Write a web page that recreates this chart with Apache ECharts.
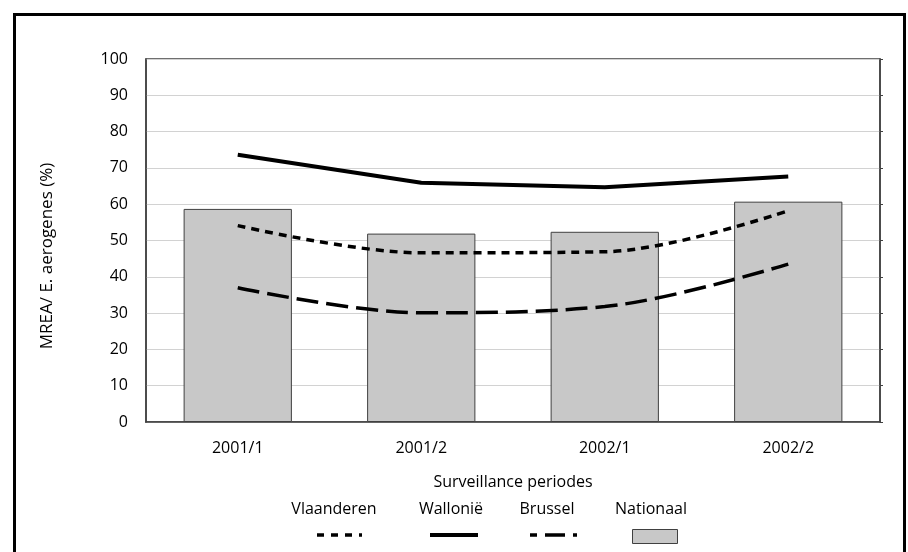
<!DOCTYPE html>
<html>
<head>
<meta charset="utf-8">
<script src="https://cdn.jsdelivr.net/npm/echarts@6/dist/echarts.min.js"></script>
<style>html,body{margin:0;padding:0;background:#fff}#c{width:908px;height:552px}</style>
</head>
<body>
<div id="c"></div>
<script>
var categories = ['2001/1', '2001/2', '2002/1', '2002/2'];
var nationaal = [58.7, 51.9, 52.4, 60.7];
var vlaanderen = [54.1, 46.6, 46.9, 58.2];
var wallonie = [73.6, 65.9, 64.7, 67.6];
var brussel = [37.0, 30.1, 31.8, 43.5];
var yTicks = { min: 0, max: 100, interval: 10 };
var seriesNames = ['Vlaanderen', 'Wallonië', 'Brussel', 'Nationaal'];
var axisTitleX = 'Surveillance periodes';
var axisTitleY = 'MREA/ E. aerogenes (%)';

var FONT = 'Open Sans';
var FS = 16;
var chart = echarts.init(document.getElementById('c'));
var legendText = function (s, x) {
  return { type: 'text', x: x, y: 509, style: { text: s, font: FS + 'px "' + FONT + '"', fill: '#000', align: 'center', verticalAlign: 'middle' } };
};
chart.setOption({
  animation: false,
  textStyle: { fontFamily: FONT },
  grid: { left: 146, right: 28, top: 59, bottom: 130, show: true, borderColor: '#404040', borderWidth: 1.5, backgroundColor: 'transparent' },
  xAxis: {
    type: 'category', data: categories,
    axisLine: { lineStyle: { color: '#404040', width: 1.5 } },
    axisTick: { show: false },
    axisLabel: { color: '#000', fontSize: FS, margin: 18, fontFamily: FONT },
    name: axisTitleX, nameLocation: 'middle', nameGap: 52,
    nameTextStyle: { color: '#000', fontSize: FS, fontFamily: FONT }
  },
  yAxis: [{
    type: 'value', min: yTicks.min, max: yTicks.max, interval: yTicks.interval,
    axisLine: { show: true, lineStyle: { color: '#404040', width: 1.5 } },
    axisTick: { show: false },
    axisLabel: { color: '#000', fontSize: FS, margin: 18, fontFamily: FONT },
    splitLine: { lineStyle: { color: '#d2d2d2', width: 1 } }
  }, {
    type: 'value', min: yTicks.min, max: yTicks.max, interval: yTicks.interval, position: 'right',
    axisLine: { show: true, lineStyle: { color: '#404040', width: 1.5 } },
    axisTick: { show: true, length: 3, lineStyle: { color: '#404040' } },
    axisLabel: { show: false }, splitLine: { show: false }
  }],
  series: [
    { name: seriesNames[3], type: 'bar', data: nationaal, barWidth: '59%', z: 1,
      itemStyle: { color: '#c8c8c8', borderColor: '#404040', borderWidth: 1 } },
    { name: seriesNames[1], type: 'line', data: wallonie, symbol: 'none', z: 3,
      lineStyle: { color: '#000', width: 4 } },
    { name: seriesNames[0], type: 'line', data: vlaanderen, symbol: 'none', smooth: 0.35, z: 3,
      lineStyle: { color: '#000', width: 3.5, type: [8, 6] } },
    { name: seriesNames[2], type: 'line', data: brussel, symbol: 'none', smooth: 0.35, z: 3,
      lineStyle: { color: '#000', width: 3.5, type: [22, 8] } }
  ],
  graphic: [
    { type: 'rect', left: 12, top: 12, shape: { width: 890, height: 570 }, style: { fill: 'none', stroke: '#000', lineWidth: 3 } },
    { type: 'text', x: 47, y: 256, rotation: Math.PI / 2,
      style: { text: axisTitleY, font: '17px "' + FONT + '"', fill: '#000', align: 'center', verticalAlign: 'middle' } },
    legendText(seriesNames[0], 334),
    legendText(seriesNames[1], 451),
    legendText(seriesNames[2], 547),
    legendText(seriesNames[3], 651),
    { type: 'line', shape: { x1: 317, y1: 535, x2: 362, y2: 535 }, style: { stroke: '#000', lineWidth: 3.5, lineDash: [7, 7] } },
    { type: 'line', shape: { x1: 430, y1: 535, x2: 478, y2: 535 }, style: { stroke: '#000', lineWidth: 4 } },
    { type: 'line', shape: { x1: 530, y1: 535, x2: 577, y2: 535 }, style: { stroke: '#000', lineWidth: 3.5, lineDash: [20, 8], lineDashOffset: 13 } },
    { type: 'rect', shape: { x: 632.5, y: 529.5, width: 45, height: 14 }, style: { fill: '#c8c8c8', stroke: '#404040', lineWidth: 1 } }
  ]
});
</script>
</body>
</html>
